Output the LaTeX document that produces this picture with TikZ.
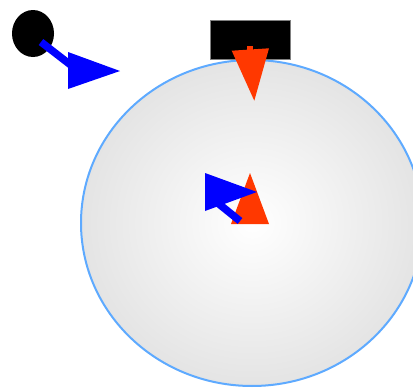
\documentclass[tikz,border=0pt]{standalone}
\usetikzlibrary{shapes.geometric}
\begin{document}
\begin{tikzpicture}[x=1pt,y=-1pt,
  ring/.style={draw=ringblue,line width=2pt,inner color=white,outer color=ringgray},
  blueline/.style={draw=blue,line width=7.5pt},
  bluehead/.style={fill=blue},
  redline/.style={draw=redarrow,line width=6.5pt},
  redhead/.style={fill=redarrow}]
\definecolor{ringblue}{RGB}{94,170,255}
\definecolor{ringgray}{RGB}{228,228,228}
\definecolor{redarrow}{RGB}{255,56,0}
\useasboundingbox (0,0) rectangle (413,388);
\begin{scope}
\clip (0,0) rectangle (413,388);
\node[ring,ellipse,minimum width=342pt,minimum height=326pt,inner sep=0pt] (c) at (252,223) {};
\end{scope}
\node[fill=black,ellipse,minimum width=42pt,minimum height=47pt,inner sep=0pt] (a) at (33,33.5) {};
\node[fill=black,draw=gray,line width=0.5pt,minimum width=80pt,minimum height=39.5pt,inner sep=0pt,anchor=north west] (b) at (210,19.5) {};
% blue arrow from a
\coordinate (a1) at (72,66);
\draw[blueline] (a.center) ++(8,8.5) -- (a1);
\coordinate (at1) at (68,52); \coordinate (at2) at (68,89); \coordinate (at3) at (120,71);
\fill[bluehead] (at1) -- (at2) -- (at3) -- cycle;
% red arrow from b
\coordinate (b1) at (250,51);
\draw[redline] (250,46) -- (b1);
\coordinate (bt1) at (231.7,50.7); \coordinate (bt2) at (269,48.3); \coordinate (bt3) at (254.3,100.7);
\fill[redhead] (bt1) -- (bt2) -- (bt3) -- cycle;
% center red triangle
\coordinate (ct1) at (250,173); \coordinate (ct2) at (231,224); \coordinate (ct3) at (269,224);
\fill[redhead] (ct1) -- (ct2) -- (ct3) -- cycle;
% center blue arrow
\coordinate (d0) at (240,221); \coordinate (d1) at (214,200);
\draw[blueline] (d0) -- (d1);
\coordinate (dt1) at (205,173); \coordinate (dt2) at (205,211); \coordinate (dt3) at (257,192);
\fill[bluehead] (dt1) -- (dt2) -- (dt3) -- cycle;
\end{tikzpicture}
\end{document}
